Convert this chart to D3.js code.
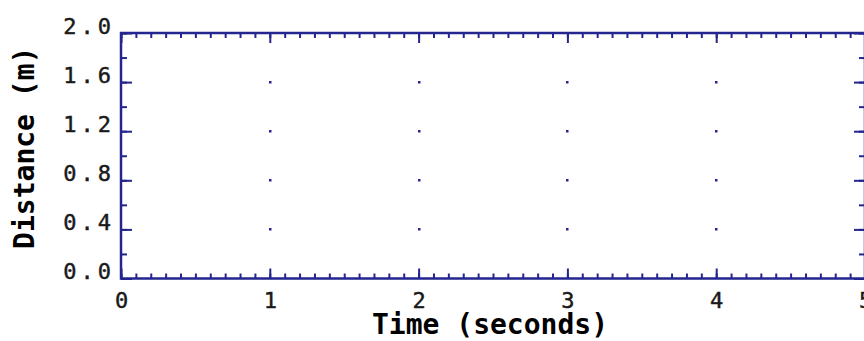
<!DOCTYPE html>
<html>
<head>
<meta charset="utf-8">
<script src="https://cdn.jsdelivr.net/npm/d3@7"></script>
<style>
  html, body { margin: 0; padding: 0; background: #fff; }
  svg { display: block; }
</style>
</head>
<body>
<svg id="chart" width="864" height="341"></svg>
<script>
// Axis ranges and tick values
const xDomain = [0, 5];
const yDomain = [0, 2.0];
const xMajorTicks = [0, 1, 2, 3, 4, 5];
const xMinorTicks = d3.range(0, 51).map(i => i / 10);
const yMajorTicks = [0, 0.4, 0.8, 1.2, 1.6, 2.0];
const yMinorTicks = d3.range(0, 11).map(i => i / 5);
const xGridDots = [1, 2, 3, 4];
const yGridDots = [0.4, 0.8, 1.2, 1.6];
const xTitle = "Time (seconds)";
const yTitle = "Distance (m)";

const navy = "#25258f";
const svg = d3.select("#chart");

const plotLeft = 121, plotRight = 865, plotTop = 33, plotBottom = 278.5;
const x = d3.scaleLinear().domain(xDomain).range([plotLeft, plotRight]);
const y = d3.scaleLinear().domain(yDomain).range([plotBottom, plotTop]);

// Grid dots at the major intersections
const dots = [];
xGridDots.forEach(a => yGridDots.forEach(b => dots.push([a, b])));
svg.append("g").selectAll("rect").data(dots).join("rect")
  .attr("x", d => Math.round(x(d[0])) - 1)
  .attr("y", d => Math.round(y(d[1])) - 1)
  .attr("width", 2.5).attr("height", 2.5)
  .attr("fill", navy);

function styleAxis(g) {
  g.select(".domain").remove();
  g.selectAll("line").attr("stroke", navy).attr("stroke-width", 2);
}

// Minor ticks, all four sides, pointing inward
svg.append("g").attr("transform", `translate(0,${plotBottom})`)
  .call(d3.axisBottom(x).tickValues(xMinorTicks).tickSize(-5).tickFormat(""))
  .call(styleAxis);
svg.append("g").attr("transform", `translate(0,${plotTop})`)
  .call(d3.axisTop(x).tickValues(xMinorTicks).tickSize(-5).tickFormat(""))
  .call(styleAxis);
svg.append("g").attr("transform", `translate(${plotLeft},0)`)
  .call(d3.axisLeft(y).tickValues(yMinorTicks).tickSize(-6).tickFormat(""))
  .call(styleAxis);
svg.append("g").attr("transform", `translate(${plotRight},0)`)
  .call(d3.axisRight(y).tickValues(yMinorTicks).tickSize(-6).tickFormat(""))
  .call(styleAxis);

// Major ticks with labels
const tickFont = "'DejaVu Sans Mono', monospace";
function styleTickText(sel) {
  sel.attr("fill", "#1a1a1a")
    .attr("stroke", "#1a1a1a").attr("stroke-width", 0.45)
    .style("font-family", tickFont).style("font-size", "22px").style("letter-spacing", "4px");
}

const xAxis = svg.append("g").attr("transform", `translate(0,${plotBottom})`)
  .call(d3.axisBottom(x).tickValues(xMajorTicks).tickSize(-10).tickFormat(d3.format("d")))
  .call(styleAxis);
xAxis.selectAll("text")
  .attr("y", 29.5).attr("dy", 0).attr("dx", 2)
  .call(styleTickText);

svg.append("g").attr("transform", `translate(0,${plotTop})`)
  .call(d3.axisTop(x).tickValues(xMajorTicks).tickSize(-10).tickFormat(""))
  .call(styleAxis);

const yAxis = svg.append("g").attr("transform", `translate(${plotLeft},0)`)
  .call(d3.axisLeft(y).tickValues(yMajorTicks).tickSize(-11).tickFormat(d3.format(".1f")))
  .call(styleAxis);
yAxis.selectAll("text")
  .attr("x", -6).attr("dy", 0).attr("y", 0)
  .call(styleTickText);

svg.append("g").attr("transform", `translate(${plotRight},0)`)
  .call(d3.axisRight(y).tickValues(yMajorTicks).tickSize(-11).tickFormat(""))
  .call(styleAxis);

// Plot frame
svg.append("rect")
  .attr("x", plotLeft).attr("y", plotTop)
  .attr("width", plotRight - plotLeft).attr("height", plotBottom - plotTop)
  .attr("fill", "none").attr("stroke", navy).attr("stroke-width", 2.5);

// Axis titles
const titleFont = "'DejaVu Sans Mono', monospace";
svg.append("text")
  .attr("x", (plotLeft + plotRight) / 2 - 3).attr("y", 334)
  .attr("text-anchor", "middle")
  .attr("fill", "#000")
  .style("font-family", titleFont).style("font-weight", "bold").style("font-size", "28px")
  .text(xTitle);

svg.append("text")
  .attr("transform", `translate(34,${(plotTop + plotBottom) / 2 - 8}) rotate(-90)`)
  .attr("text-anchor", "middle")
  .attr("fill", "#000")
  .style("font-family", titleFont).style("font-weight", "bold").style("font-size", "28px")
  .text(yTitle);
</script>
</body>
</html>
